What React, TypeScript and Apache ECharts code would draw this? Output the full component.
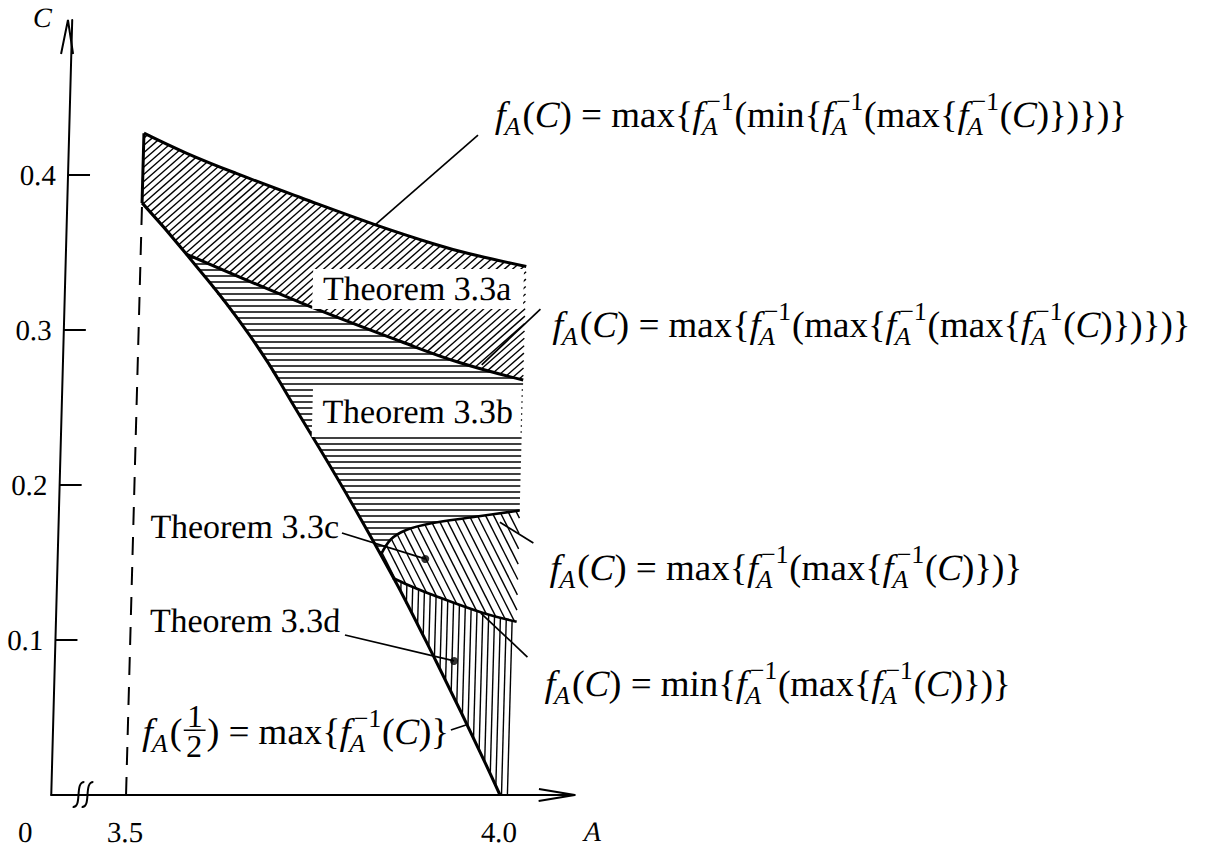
import React, { useEffect, useRef } from 'react';
import * as echarts from 'echarts';

const SERIF = "'Liberation Serif', 'Times New Roman', serif";

// Axis ranges and ticks
const A_MIN = 3.4;
const A_MAX = 4.1;
const C_MIN = 0;
const C_MAX = 0.5;
const X_TICKS = [3.4, 3.5, 4.0];
const X_TICK_LABELS = ['0', '3.5', '4.0'];
const Y_TICKS = [0.1, 0.2, 0.3, 0.4];

// Upper boundary: f_A(C) = max{f^-1(min{f^-1(max{f^-1(C)})})}
const TOP_A = [3.5, 3.558, 3.625, 3.714, 3.812, 3.892, 3.937, 4.016];
const TOP_C = [0.427, 0.414, 0.401, 0.385, 0.368, 0.3555, 0.3495, 0.341];

// f_A(1/2) = max{f^-1(C)}
const STEEP_A = [3.5, 3.561, 3.648, 3.713, 3.821, 3.91, 4.0];
const STEEP_C = [0.382, 0.349, 0.297, 0.249, 0.164, 0.086, 0];

// f_A(C) = max{f^-1(max{f^-1(max{f^-1(C)})})}
const AB_A = [3.561, 3.718, 3.852, 3.93, 4.016];
const AB_C = [0.349, 0.3172, 0.2924, 0.279, 0.2677];

// f_A(C) = max{f^-1(max{f^-1(C)})}
const CU_A = [3.832, 3.845, 3.865, 3.9, 3.95, 4.016];
const CU_C = [0.155, 0.165, 0.171, 0.1755, 0.179, 0.1835];

// f_A(C) = min{f^-1(max{f^-1(C)})}
const CL_A = [3.849, 3.8695, 3.903, 3.972, 4.016];
const CL_C = [0.14, 0.1355, 0.129, 0.1172, 0.1118];

const A_LEFT = 3.5;
const A_RIGHT = 4.016;

// Leader lines from the labels (start, end) and their marker dots
const POINTERS: number[][][] = [
  [[3.9467, 0.4258], [3.812, 0.3677]],
  [[4.0365, 0.3135], [3.96, 0.2775]],
  [[4.0355, 0.1626], [3.99, 0.176]],
  [[4.0317, 0.089], [3.9678, 0.1174]],
  [[3.7792, 0.169], [3.8915, 0.1523]],
  [[3.7869, 0.1032], [3.9337, 0.0865]],
  [[3.932, 0.0419], [3.9519, 0.0452]],
];
const DOTS = [[3.8915, 0.1523], [3.9337, 0.0865]];

const THEOREMS = ['Theorem 3.3a', 'Theorem 3.3b', 'Theorem 3.3c', 'Theorem 3.3d'];

// Formula tokens: r = upright, i = italic, fA = f with subscript A,
// fi = f with subscript A and superscript -1, fr = fraction
type Tok = string[];
const F_TOP: Tok[] = [['fA'], ['r', '('], ['i', 'C'], ['r', ') = max{'], ['fi'], ['r', '(min{'], ['fi'], ['r', '(max{'], ['fi'], ['r', '('], ['i', 'C'], ['r', ')})})}']];
const F_AB: Tok[] = [['fA'], ['r', '('], ['i', 'C'], ['r', ') = max{'], ['fi'], ['r', '(max{'], ['fi'], ['r', '(max{'], ['fi'], ['r', '('], ['i', 'C'], ['r', ')})})}']];
const F_CU: Tok[] = [['fA'], ['r', '('], ['i', 'C'], ['r', ') = max{'], ['fi'], ['r', '(max{'], ['fi'], ['r', '('], ['i', 'C'], ['r', ')})}']];
const F_CL: Tok[] = [['fA'], ['r', '('], ['i', 'C'], ['r', ') = min{'], ['fi'], ['r', '(max{'], ['fi'], ['r', '('], ['i', 'C'], ['r', ')})}']];
const F_HALF: Tok[] = [['fA'], ['r', '('], ['fr', '1', '2'], ['r', ') = max{'], ['fi'], ['r', '('], ['i', 'C'], ['r', ')}']];

// Layout
const W = 1205;
const H = 846;
const GRID_LEFT = 47;
const GRID_TOP = 20;
const PX_A = 754;
const PX_C = 1550;
const GRID_W = (A_MAX - A_MIN) * PX_A;
const GRID_H = (C_MAX - C_MIN) * PX_C;
const ORIGIN_Y = GRID_TOP + GRID_H;
const F_SIZE = 37;
const T_SIZE = 34;

const pairs = (a: number[], c: number[]) => a.map((v, i) => [v, c[i]]);

function hatch(poly: number[][], angleDeg: number, gap: number) {
  const th = (angleDeg * Math.PI) / 180;
  const dx = Math.cos(th);
  const dy = -Math.sin(th);
  const nx = -dy;
  const ny = dx;
  let tmin = Infinity;
  let tmax = -Infinity;
  for (const p of poly) {
    const t = nx * p[0] + ny * p[1];
    tmin = Math.min(tmin, t);
    tmax = Math.max(tmax, t);
  }
  const segs: number[][] = [];
  for (let t = Math.ceil(tmin / gap) * gap; t <= tmax; t += gap) {
    const us: number[] = [];
    for (let i = 0; i < poly.length; i++) {
      const p1 = poly[i];
      const p2 = poly[(i + 1) % poly.length];
      const s1 = nx * p1[0] + ny * p1[1] - t;
      const s2 = nx * p2[0] + ny * p2[1] - t;
      if (s1 > 0 !== s2 > 0) {
        const r = s1 / (s1 - s2);
        const x = p1[0] + r * (p2[0] - p1[0]);
        const y = p1[1] + r * (p2[1] - p1[1]);
        us.push(dx * x + dy * y);
      }
    }
    us.sort((a, b) => a - b);
    for (let k = 0; k + 1 < us.length; k += 2) {
      segs.push([nx * t + dx * us[k], ny * t + dy * us[k], nx * t + dx * us[k + 1], ny * t + dy * us[k + 1]]);
    }
  }
  return segs;
}

export default function App() {
  const ref = useRef<HTMLDivElement>(null);

  useEffect(() => {
    const el = ref.current;
    if (!el) return;
    const chart = echarts.init(el, null, { renderer: 'svg' });

    const TOP = pairs(TOP_A, TOP_C);
    const STEEP = pairs(STEEP_A, STEEP_C);
    const AB = pairs(AB_A, AB_C);
    const CU = pairs(CU_A, CU_C);
    const CL = pairs(CL_A, CL_C);
    const steepBetween = (lo: number, hi: number) => STEEP.filter((p) => p[0] > lo && p[0] < hi);
    const rev = (a: number[][]) => a.slice().reverse();

    const regions = [
      [...TOP, ...rev(AB), ...rev(steepBetween(-1, AB[0][0]))],
      [...AB, ...rev(CU), ...rev(steepBetween(AB[0][0], CU[0][0]))],
      [...CU, ...rev(CL), ...rev(steepBetween(CU[0][0], CL[0][0]))],
      [...CL, [A_RIGHT, 0], ...rev(steepBetween(CL[0][0], 99))],
    ];
    const hatchStyle = [
      { angle: 42, gap: 5.5 },
      { angle: 0, gap: 6 },
      { angle: -62, gap: 7.2 },
      { angle: 90, gap: 5.9 },
    ];

    // text measuring for formula layout
    const ctx = document.createElement('canvas').getContext('2d') as CanvasRenderingContext2D;
    const measure = (t: string, size: number, italic: boolean) => {
      ctx.font = `${italic ? 'italic ' : ''}${size}px ${SERIF}`;
      return ctx.measureText(t).width;
    };
    const textEl = (t: string, x: number, y: number, size: number, italic: boolean, extra: any = {}) => ({
      type: 'text',
      x,
      y,
      z: 50,
      silent: true,
      style: {
        text: t,
        fill: '#000',
        fontSize: size,
        fontFamily: SERIF,
        fontStyle: italic ? 'italic' : 'normal',
        align: 'left',
        verticalAlign: 'middle',
        ...extra,
      },
    });

    const formula = (toks: Tok[], x0: number, y: number, S: number) => {
      const out: any[] = [];
      let x = x0;
      const s = 0.7 * S;
      for (const tk of toks) {
        const k = tk[0];
        if (k === 'r' || k === 'i') {
          out.push(textEl(tk[1], x, y, S, k === 'i'));
          x += measure(tk[1], S, k === 'i');
        } else if (k === 'fA') {
          out.push(textEl('f', x, y, S, true));
          x += measure('f', S, true);
          out.push(textEl('A', x - 0.02 * S, y + 0.3 * S, s, true));
          x += measure('A', s, true) + 0.03 * S;
        } else if (k === 'fi') {
          out.push(textEl('f', x, y, S, true));
          x += measure('f', S, true);
          const wSup = measure('\u22121', s, false);
          const wSub = measure('A', s, true);
          out.push(textEl('\u22121', x + 0.08 * S, y - 0.36 * S, s, false));
          out.push(textEl('A', x - 0.02 * S, y + 0.3 * S, s, true));
          x += Math.max(wSup + 0.08 * S, wSub) + 0.03 * S;
        } else if (k === 'fr') {
          const fs = 0.86 * S;
          const wn = measure(tk[1], fs, false);
          const wd = measure(tk[2], fs, false);
          const bw = Math.max(wn, wd) + 0.16 * S;
          const bar = y - 0.05 * S;
          out.push({ type: 'line', z: 50, silent: true, shape: { x1: x + 0.04 * S, y1: bar, x2: x + 0.04 * S + bw, y2: bar }, style: { stroke: '#000', lineWidth: 1.5 } });
          out.push(textEl(tk[1], x + 0.04 * S + (bw - wn) / 2, bar - 0.36 * S, fs, false));
          out.push(textEl(tk[2], x + 0.04 * S + (bw - wd) / 2, bar + 0.44 * S, fs, false));
          x += bw + 0.08 * S;
        }
      }
      return out;
    };

    const toPx = (a: number, c: number) => [GRID_LEFT + (a - A_MIN) * PX_A, ORIGIN_Y - (c - C_MIN) * PX_C];
    const yTip = toPx(A_MIN, C_MAX);
    const xTip = toPx(A_MAX, C_MIN);

    const breakMark = (x0: number) => ({
      type: 'bezierCurve',
      z: 50,
      silent: true,
      shape: { x1: x0, y1: ORIGIN_Y + 12, cpx1: x0 + 10, cpy1: ORIGIN_Y + 13, cpx2: x0 + 1, cpy2: ORIGIN_Y - 13, x2: x0 + 11, y2: ORIGIN_Y - 13 },
      style: { stroke: '#000', lineWidth: 2, fill: 'none' },
    });

    const graphics: any[] = [
      { type: 'polyline', z: 50, silent: true, shape: { points: [[yTip[0] - 6, yTip[1] + 34], yTip, [yTip[0] + 6, yTip[1] + 34]] }, style: { stroke: '#000', lineWidth: 2, fill: 'none' } },
      { type: 'polyline', z: 50, silent: true, shape: { points: [[xTip[0] - 36, xTip[1] - 6], xTip, [xTip[0] - 36, xTip[1] + 6]] }, style: { stroke: '#000', lineWidth: 2, fill: 'none' } },
      breakMark(73),
      breakMark(82),
      textEl('C', 12, 18, 28, true),
      textEl('A', 585, 832, 28, true),
      textEl(THEOREMS[0], 299, 289, T_SIZE, false, { backgroundColor: '#fff', padding: [2, 12, 4, 10] }),
      textEl(THEOREMS[1], 302, 412, T_SIZE, false, { backgroundColor: '#fff', padding: [4, 8, 12, 10] }),
      textEl(THEOREMS[2], 143, 527, T_SIZE, false),
      textEl(THEOREMS[3], 145, 621, T_SIZE, false),
      ...formula(F_TOP, 477, 115, F_SIZE),
      ...formula(F_AB, 540, 325, F_SIZE),
      ...formula(F_CU, 544, 568, F_SIZE),
      ...formula(F_CL, 542, 684, F_SIZE),
      ...formula(F_HALF, 141, 732, F_SIZE),
    ];

    const boundary = (data: number[][], width: number, smooth: number | boolean, extra: any = {}) => ({
      type: 'line',
      data,
      showSymbol: false,
      symbol: 'none',
      silent: true,
      smooth,
      z: 5,
      lineStyle: { color: '#000', width, ...extra },
    });

    chart.setOption({
      animation: false,
      backgroundColor: '#fff',
      grid: { left: GRID_LEFT, top: GRID_TOP, width: GRID_W, height: GRID_H, containLabel: false },
      xAxis: {
        type: 'value',
        min: A_MIN,
        max: A_MAX,
        axisLine: { show: true, onZero: false, lineStyle: { color: '#000', width: 2 } },
        axisTick: { show: false },
        splitLine: { show: false },
        axisLabel: {
          customValues: X_TICKS,
          margin: 22,
          color: '#000',
          fontSize: 29,
          fontFamily: SERIF,
          formatter: (v: number) => {
            const i = X_TICKS.findIndex((t) => Math.abs(t - v) < 1e-6);
            if (i === 0) return '{z|' + X_TICK_LABELS[0] + '}';
            return i >= 0 ? X_TICK_LABELS[i] : '';
          },
          rich: { z: { padding: [0, 50, 0, 0], fontSize: 29, fontFamily: SERIF, color: '#000' } },
        },
      },
      yAxis: {
        type: 'value',
        min: C_MIN,
        max: C_MAX,
        axisLine: { show: true, onZero: false, lineStyle: { color: '#000', width: 2 } },
        axisTick: { show: true, inside: true, length: 22, customValues: Y_TICKS, lineStyle: { color: '#000', width: 2 } },
        splitLine: { show: false },
        axisLabel: {
          customValues: Y_TICKS,
          margin: 12,
          color: '#000',
          fontSize: 29,
          fontFamily: SERIF,
          formatter: (v: number) => v.toFixed(1),
        },
      },
      series: [
        {
          type: 'custom',
          coordinateSystem: 'cartesian2d',
          clip: false,
          silent: true,
          z: 2,
          data: regions.map((_, i) => [3.7, 0.2, i]),
          encode: { x: 0, y: 1 },
          renderItem: (_params: any, api: any) => {
            const idx = api.value(2);
            const poly = regions[idx].map((p) => api.coord(p));
            const st = hatchStyle[idx];
            const segs = hatch(poly, st.angle, st.gap);
            return {
              type: 'group',
              children: segs.map((s) => ({
                type: 'line',
                shape: { x1: s[0], y1: s[1], x2: s[2], y2: s[3] },
                style: { stroke: '#000', lineWidth: 1.4 },
              })),
            };
          },
        },
        boundary(TOP, 3, 0.4),
        boundary(STEEP, 3, 0.5),
        boundary(AB, 3, 0.4),
        boundary(CU, 2.6, 0.35),
        boundary(CL, 2.6, 0.35),
        boundary([[A_LEFT, STEEP_C[0]], [A_LEFT, TOP_C[0]]], 3, false),
        boundary([[A_LEFT, 0], [A_LEFT, STEEP_C[0]]], 2, false, { type: [18, 12] }),
        {
          type: 'lines',
          coordinateSystem: 'cartesian2d',
          silent: true,
          z: 6,
          lineStyle: { color: '#000', width: 1.7, opacity: 1 },
          data: POINTERS.map((p) => ({ coords: p })),
        },
        {
          type: 'scatter',
          silent: true,
          z: 7,
          symbolSize: 8,
          itemStyle: { color: '#000' },
          data: DOTS,
        },
      ],
      graphic: { elements: graphics },
    });

    return () => chart.dispose();
  }, []);

  return (
    <div
      ref={ref}
      style={{
        position: 'absolute',
        left: 0,
        top: 0,
        width: W,
        height: H,
        background: '#fff',
        transform: 'skewX(-1.55deg)',
        transformOrigin: `0px ${ORIGIN_Y}px`,
      }}
    />
  );
}
